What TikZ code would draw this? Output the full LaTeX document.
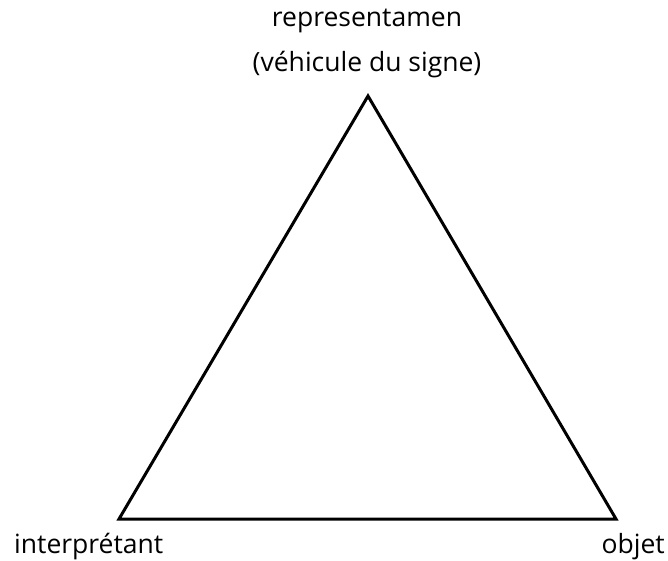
\documentclass[tikz,border=0pt]{standalone}
\usepackage{fontspec}
\setmainfont{Open Sans}
\begin{document}
\begin{tikzpicture}[x=1pt,y=-1pt,
  lbl/.style={anchor=base,inner sep=0pt,font=\fontsize{26.5}{30}\selectfont},
  edge/.style={draw=black,line width=3pt,line join=miter}]
\useasboundingbox (0,0) rectangle (668,561);
\coordinate (R) at (368,96);
\coordinate (I) at (119,519);
\coordinate (O) at (616,519);
\draw[edge] (R) -- (I) -- (O) -- cycle;
\node[lbl] (t1) at (367,27) {representamen};
\node[lbl] (t2) at (367,72) {(véhicule du signe)};
\node[lbl,anchor=base west] (ti) at (14,553) {interprétant};
\node[lbl,anchor=base east] (to) at (665,553) {objet};
\end{tikzpicture}
\end{document}
